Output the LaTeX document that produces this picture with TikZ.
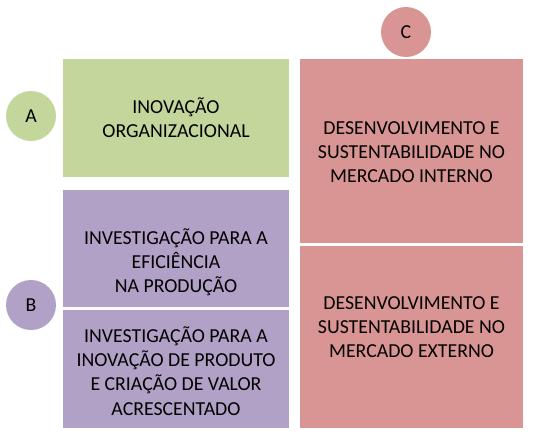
\documentclass[tikz,border=0pt]{standalone}
\usepackage{fontspec}
\setmainfont{Carlito}
\usetikzlibrary{positioning}

\definecolor{verdeA}{HTML}{C3D69B}
\definecolor{roxoB}{HTML}{B2A1C7}
\definecolor{rosaC}{HTML}{D99594}

\begin{document}
\begin{tikzpicture}[
    x=1pt, y=-1pt,
    every node/.style={font=\fontsize{19.8}{24.2}\selectfont, inner sep=0pt},
    caixa/.style={rectangle, minimum width=226pt, minimum height=118pt},
    caixaC/.style={rectangle, minimum width=223pt, minimum height=184pt},
    letra/.style={circle, minimum size=50pt},
    texto/.style={align=center}
]
    \useasboundingbox (0,0) rectangle (535,442);

    % --- Circulos A, B, C ---
    \node[letra, fill=verdeA] (a) at (31, 116) {A};
    \node[letra, fill=roxoB]  (b) at (31, 305) {B};
    \node[letra, fill=rosaC]  (c) at (406, 32) {C};

    % --- Coluna esquerda ---
    \node[caixa, fill=verdeA] (inov) at (176, 118) {};
    \node[caixa, fill=roxoB, minimum height=117pt] (efic) at (176, 248.5) {};
    \node[caixa, fill=roxoB]  (prod) at (176, 369) {};

    % --- Coluna direita ---
    \node[caixaC, fill=rosaC] (interno) at (411.5, 151) {};
    \node[caixaC, fill=rosaC, minimum height=182pt] (externo) at (411.5, 337) {};

    % --- Textos ---
    \node[texto] (tinov) at (176, 118) {INOVAÇÃO\\ORGANIZACIONAL};
    \node[texto] (tefic) at (176, 262) {INVESTIGAÇÃO PARA A\\EFICIÊNCIA\\NA PRODUÇÃO};
    \node[texto] (tprod) at (176, 371) {INVESTIGAÇÃO PARA A\\INOVAÇÃO DE PRODUTO\\E CRIAÇÃO DE VALOR\\ACRESCENTADO};
    \node[texto] (tint) at (411.5, 152) {DESENVOLVIMENTO E\\SUSTENTABILIDADE NO\\MERCADO INTERNO};
    \node[texto] (text) at (411.5, 327) {DESENVOLVIMENTO E\\SUSTENTABILIDADE NO\\MERCADO EXTERNO};

\end{tikzpicture}
\end{document}
